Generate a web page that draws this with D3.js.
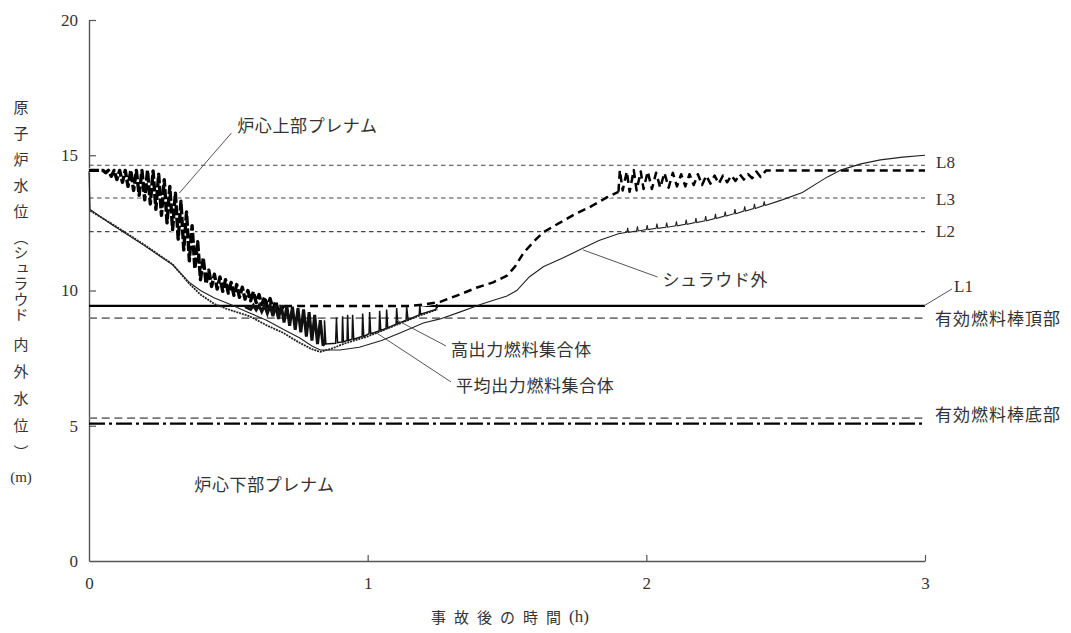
<!DOCTYPE html>
<html>
<head>
<meta charset="utf-8">
<script src="https://cdn.jsdelivr.net/npm/d3@7"></script>
<style>
  html, body { margin: 0; padding: 0; background: #fff; }
  svg { display: block; }
  text { font-family: "Noto Sans CJK JP", sans-serif; fill: #333; }
  text.num { font-family: "Liberation Serif", serif; }
</style>
</head>
<body>
<svg id="chart" width="1071" height="633"></svg>
<script>
// ---- axis ticks ----
const timeTicks = [0, 1, 2, 3];
const levelTicks = [0, 5, 10, 15, 20];

// ---- reference levels (m) ----
const levelNames = ["L8", "L3", "L2", "L1", "有効燃料棒頂部", "有効燃料棒底部"];
const levelValues = [14.63, 13.42, 12.18, 9.43, 8.98, 5.28];
const lowerLineLevel = 5.08;

// ---- water level series: [time after accident (h), level (m)] ----
const shroudOutside = [
  [0, 14.4], [0.004, 13.0], [0.08, 12.45], [0.2, 11.65], [0.3, 10.95], [0.36, 10.3],
  [0.4, 10.0], [0.45, 9.72], [0.51, 9.47], [0.57, 9.2], [0.637, 8.9], [0.7, 8.55],
  [0.755, 8.25], [0.8, 7.95], [0.83, 7.8], [0.9, 7.8], [0.97, 7.9], [1.05, 8.15],
  [1.12, 8.45], [1.2, 8.8], [1.26, 8.95], [1.33, 9.2], [1.415, 9.52], [1.5, 9.8],
  [1.535, 10.0], [1.58, 10.5], [1.63, 10.88], [1.7, 11.2], [1.77, 11.55], [1.83, 11.85],
  [1.9, 12.1],
  [1.93, 12.15], [1.933, 12.32], [1.936, 12.15],
  [1.965, 12.2], [1.968, 12.37], [1.971, 12.2],
  [2.0, 12.25], [2.003, 12.42], [2.006, 12.25],
  [2.035, 12.3], [2.038, 12.47], [2.041, 12.3],
  [2.07, 12.34], [2.073, 12.51], [2.076, 12.34],
  [2.105, 12.39], [2.108, 12.56], [2.111, 12.39],
  [2.14, 12.45], [2.143, 12.62], [2.146, 12.45],
  [2.175, 12.51], [2.178, 12.68], [2.181, 12.51],
  [2.21, 12.58], [2.213, 12.75], [2.216, 12.58],
  [2.245, 12.66], [2.248, 12.83], [2.251, 12.66],
  [2.28, 12.75], [2.283, 12.92], [2.286, 12.75],
  [2.315, 12.84], [2.318, 13.01], [2.321, 12.84],
  [2.35, 12.94], [2.353, 13.11], [2.356, 12.94],
  [2.385, 13.03], [2.388, 13.2], [2.391, 13.03],
  [2.42, 13.14], [2.423, 13.3], [2.426, 13.14],
  [2.49, 13.36], [2.56, 13.62], [2.615, 13.98], [2.65, 14.2], [2.7, 14.46],
  [2.77, 14.68], [2.84, 14.83], [2.92, 14.93], [3.0, 15.0]
];

const averageAssembly = [
  [0.004, 12.95], [0.08, 12.48], [0.2, 11.68], [0.3, 10.97], [0.36, 10.25], [0.4, 9.85],
  [0.45, 9.5], [0.5, 9.3], [0.576, 9.05], [0.64, 8.7], [0.694, 8.45], [0.75, 8.1],
  [0.8, 7.83], [0.83, 7.73], [0.87, 7.85], [0.92, 8.05], [1.0, 8.3], [1.06, 8.55],
  [1.12, 8.8], [1.18, 9.05], [1.25, 9.3]
];

// high-power assembly: dense oscillation, then the spiked recovery
const highAssemblyDense = [
  [0.56, 9.4], [0.58, 9.3], [0.59, 9.45], [0.6, 9.28], [0.61, 9.45], [0.62, 9.22],
  [0.63, 9.45], [0.64, 9.15], [0.65, 9.45], [0.66, 9.05], [0.67, 9.45], [0.68, 8.95],
  [0.69, 9.45], [0.7, 8.82], [0.71, 9.42], [0.72, 8.7], [0.73, 9.4], [0.74, 8.55],
  [0.75, 9.35], [0.76, 8.45], [0.77, 9.3], [0.78, 8.3], [0.79, 9.2], [0.8, 8.15],
  [0.81, 9.1], [0.82, 8.02], [0.83, 8.9], [0.84, 7.95]
];
const highAssemblySpikes = [
  [0.84, 7.95], [0.845, 8.0], [0.845, 8.9], [0.85, 8.02],
  [0.885, 8.05], [0.888, 9.0], [0.892, 8.07],
  [0.908, 8.1], [0.91, 9.05], [0.913, 8.1],
  [0.926, 8.15], [0.928, 9.1], [0.931, 8.15],
  [0.944, 8.2], [0.946, 9.1], [0.95, 8.2],
  [0.98, 8.3], [0.982, 9.15], [0.986, 8.3],
  [1.005, 8.4], [1.007, 9.2], [1.011, 8.4],
  [1.041, 8.5], [1.043, 9.25], [1.047, 8.52],
  [1.066, 8.6], [1.068, 9.3], [1.072, 8.62],
  [1.102, 8.75], [1.104, 9.35], [1.108, 8.77],
  [1.138, 8.9], [1.14, 9.4], [1.145, 8.92],
  [1.185, 9.1], [1.187, 9.45], [1.19, 9.12],
  [1.245, 9.3], [1.248, 9.5], [1.25, 9.35]
];

// upper plenum: falling oscillation, flat / reflood rise, settling oscillation
const plenumFall = [
  [0, 14.44], [0.05, 14.44], [0.06, 14.35], [0.07, 14.44], [0.08, 14.22], [0.09, 14.44],
  [0.10, 14.1], [0.11, 14.44], [0.12, 14.0], [0.13, 14.44], [0.14, 13.85], [0.15, 14.44],
  [0.16, 13.7], [0.17, 14.44], [0.18, 13.52], [0.19, 14.44], [0.20, 13.35], [0.21, 14.44],
  [0.22, 13.2], [0.23, 14.42], [0.24, 13.0], [0.25, 14.3], [0.26, 12.78], [0.27, 14.1],
  [0.28, 12.5], [0.29, 13.85], [0.30, 12.25], [0.31, 13.6], [0.32, 11.9], [0.33, 13.3],
  [0.34, 11.5], [0.35, 12.9], [0.36, 11.1], [0.37, 12.4], [0.38, 10.8], [0.39, 11.8],
  [0.40, 10.4], [0.41, 11.2], [0.42, 10.25], [0.43, 10.75], [0.44, 10.15], [0.45, 10.6],
  [0.46, 10.05], [0.47, 10.5], [0.48, 9.97], [0.49, 10.4], [0.50, 9.9], [0.51, 10.3],
  [0.52, 9.82], [0.53, 10.22], [0.54, 9.75], [0.55, 10.12], [0.56, 9.68], [0.57, 10.0],
  [0.58, 9.62], [0.59, 9.95], [0.60, 9.55], [0.61, 9.85], [0.62, 9.48], [0.63, 9.75],
  [0.64, 9.4], [0.65, 9.7], [0.66, 9.3], [0.67, 9.6], [0.68, 9.2], [0.7, 9.43]
];
const plenumRise = [
  [0.7, 9.43], [1.15, 9.43], [1.2, 9.48], [1.26, 9.58], [1.33, 9.85], [1.39, 10.1],
  [1.45, 10.3], [1.5, 10.55], [1.53, 10.9], [1.56, 11.4], [1.6, 11.85], [1.63, 12.15],
  [1.68, 12.45], [1.74, 12.8], [1.8, 13.1], [1.86, 13.45], [1.9, 13.65]
];
const plenumSettle = [
  [1.9, 13.65], [1.905, 14.45], [1.915, 13.7], [1.93, 14.4], [1.94, 13.65], [1.955, 14.45],
  [1.965, 13.7], [1.98, 14.4], [1.99, 13.75], [2.005, 14.4], [2.02, 13.75], [2.035, 14.35],
  [2.05, 13.8], [2.065, 14.35], [2.08, 13.8], [2.095, 14.35], [2.11, 13.85], [2.125, 14.3],
  [2.14, 13.85], [2.155, 14.3], [2.17, 13.9], [2.185, 14.3], [2.2, 13.9], [2.215, 14.25],
  [2.23, 13.95], [2.245, 14.25], [2.26, 13.95], [2.275, 14.25], [2.29, 14.0], [2.305, 14.25],
  [2.32, 14.05], [2.335, 14.3], [2.35, 14.1], [2.365, 14.3], [2.38, 14.15], [2.395, 14.4],
  [2.41, 14.2], [2.43, 14.44], [3.0, 14.44]
];

// ---- chart ----
const svg = d3.select("#chart");
svg.append("rect").attr("width", 1071).attr("height", 633).attr("fill", "#fff");

const x = d3.scaleLinear().domain([0, 3]).range([89, 925]);
const y = d3.scaleLinear().domain([0, 20]).range([561, 20]);
const line = d3.line().x(d => x(d[0])).y(d => y(d[1]));

// axes
const yAxis = d3.axisLeft(y).tickValues(levelTicks).tickFormat(d3.format("d"))
  .tickSizeInner(-7).tickSizeOuter(0).tickPadding(11);
const xAxis = d3.axisBottom(x).tickValues(timeTicks).tickFormat(d3.format("d"))
  .tickSizeInner(-6).tickSizeOuter(0).tickPadding(16);

function styleAxis(g) {
  g.attr("font-family", "'Liberation Serif', serif");
  g.select(".domain").attr("stroke", "#555").attr("stroke-width", 1.4);
  g.selectAll(".tick line").attr("stroke", "#555").attr("stroke-width", 1.2);
  g.selectAll(".tick text").attr("class", "num").attr("font-size", 17).attr("fill", "#333")
    .attr("font-family", "'Liberation Serif', serif")
    .style("font-family", "'Liberation Serif', serif");
}
svg.append("g").attr("transform", `translate(${x(0)},0)`).call(yAxis).call(styleAxis);
svg.append("g").attr("transform", `translate(0,${y(0)})`).call(xAxis).call(styleAxis);
svg.selectAll(".tick").filter(d => d === 0).select("line").remove();

// reference level lines
const levelStyles = [
  { stroke: "#444", width: 1.2, dash: "4.5,3.5" },
  { stroke: "#444", width: 1.2, dash: "4.5,3.5" },
  { stroke: "#444", width: 1.2, dash: "4.5,3.5" },
  { stroke: "#000", width: 2.2, dash: null },
  { stroke: "#777", width: 1.7, dash: "8,4.7" },
  { stroke: "#777", width: 1.7, dash: "8,4.7" }
];
levelValues.forEach((v, i) => {
  const s = levelStyles[i];
  svg.append("line")
    .attr("x1", x(0)).attr("x2", x(3)).attr("y1", y(v)).attr("y2", y(v))
    .attr("stroke", s.stroke).attr("stroke-width", s.width)
    .attr("stroke-dasharray", s.dash);
});
svg.append("line")
  .attr("x1", x(0)).attr("x2", x(3)).attr("y1", y(lowerLineLevel)).attr("y2", y(lowerLineLevel))
  .attr("stroke", "#000").attr("stroke-width", 2.3).attr("stroke-dasharray", "16,4,3,4");

// upper plenum level: bold dashed line over a white under-stroke
const plenumParts = [
  { data: plenumFall, width: 3.4, dash: "10,2.5" },
  { data: plenumRise, width: 2.5, dash: "8,5" },
  { data: plenumSettle, width: 2.5, dash: "8,5" }
];
plenumParts.forEach(p => {
  svg.append("path").datum(p.data).attr("d", line)
    .attr("fill", "none").attr("stroke", "#fff").attr("stroke-width", p.width + 1.5)
    .attr("stroke-linejoin", "round");
});
plenumParts.forEach(p => {
  svg.append("path").datum(p.data).attr("d", line)
    .attr("fill", "none").attr("stroke", "#000").attr("stroke-width", p.width)
    .attr("stroke-dasharray", p.dash).attr("stroke-linejoin", "round");
});

// fuel assembly levels
svg.append("path").datum(highAssemblyDense).attr("d", line)
  .attr("fill", "none").attr("stroke", "#111").attr("stroke-width", 3);
svg.append("path").datum(highAssemblySpikes).attr("d", line)
  .attr("fill", "none").attr("stroke", "#111").attr("stroke-width", 1.5);
svg.append("path").datum(averageAssembly).attr("d", line)
  .attr("fill", "none").attr("stroke", "#222").attr("stroke-width", 1.8)
  .attr("stroke-dasharray", "2,0.9");

// outside shroud level
svg.append("path").datum(shroudOutside).attr("d", line)
  .attr("fill", "none").attr("stroke", "#222").attr("stroke-width", 1.1);

// ---- annotations ----
const leaders = [
  [[0.511, 15.82], [0.324, 13.6]],
  [[1.773, 11.5], [2.04, 10.5]],
  [[1.104, 8.91], [1.281, 7.95]],
  [[1.032, 8.43], [1.299, 6.62]],
  [[2.996, 9.43], [3.097, 10.06]]
];
leaders.forEach(p => {
  svg.append("line")
    .attr("x1", x(p[0][0])).attr("y1", y(p[0][1]))
    .attr("x2", x(p[1][0])).attr("y2", y(p[1][1]))
    .attr("stroke", "#555").attr("stroke-width", 1);
});

const notes = [
  { text: "炉心上部プレナム", t: 0.532, v: 16.12 },
  { text: "シュラウド外", t: 2.058, v: 10.43 },
  { text: "高出力燃料集合体", t: 1.299, v: 7.87 },
  { text: "平均出力燃料集合体", t: 1.317, v: 6.54 },
  { text: "炉心下部プレナム", t: 0.378, v: 2.88 }
];
notes.forEach(n => {
  svg.append("text").attr("x", x(n.t)).attr("y", y(n.v))
    .attr("dominant-baseline", "central").attr("font-size", 17)
    .attr("letter-spacing", 0.6).text(n.text);
});

// labels at the right end of the level lines
const levelLabelDy = [-3, 2, 0, -19, -1, -5];
const levelLabelDx = [11, 11, 11, 29, 10, 10];
levelNames.forEach((name, i) => {
  const isL = name.startsWith("L");
  const t = svg.append("text")
    .attr("x", x(3) + levelLabelDx[i]).attr("y", y(levelValues[i]) + levelLabelDy[i])
    .attr("dominant-baseline", "central")
    .attr("font-size", 17)
    .attr("letter-spacing", isL ? 0 : 1)
    .text(name);
  if (isL) t.attr("class", "num");
});

// vertical y-axis title
const yt = svg.append("text")
  .attr("x", 21).attr("y", 99.5)
  .attr("writing-mode", "vertical-rl")
  .style("writing-mode", "vertical-rl")
  .attr("font-size", 15);
yt.append("tspan").attr("letter-spacing", 11).text("原子炉水位");
yt.append("tspan").attr("letter-spacing", 0.5).text("（シュラウド");
yt.append("tspan").attr("dy", 14).attr("letter-spacing", 12).text("内外水位）");
svg.append("text").attr("class", "num").attr("x", 21).attr("y", 477).attr("text-anchor", "middle")
  .attr("dominant-baseline", "central").attr("font-size", 15).text("(m)");

// x-axis title
const xt = svg.append("text").attr("x", 510).attr("y", 616).attr("text-anchor", "middle")
  .attr("dominant-baseline", "central").attr("font-size", 15);
xt.append("tspan").attr("letter-spacing", 8).text("事故後の時間");
xt.append("tspan").attr("font-size", 17).style("font-family", "'Liberation Serif', serif").text("(h)");
</script>
</body>
</html>
